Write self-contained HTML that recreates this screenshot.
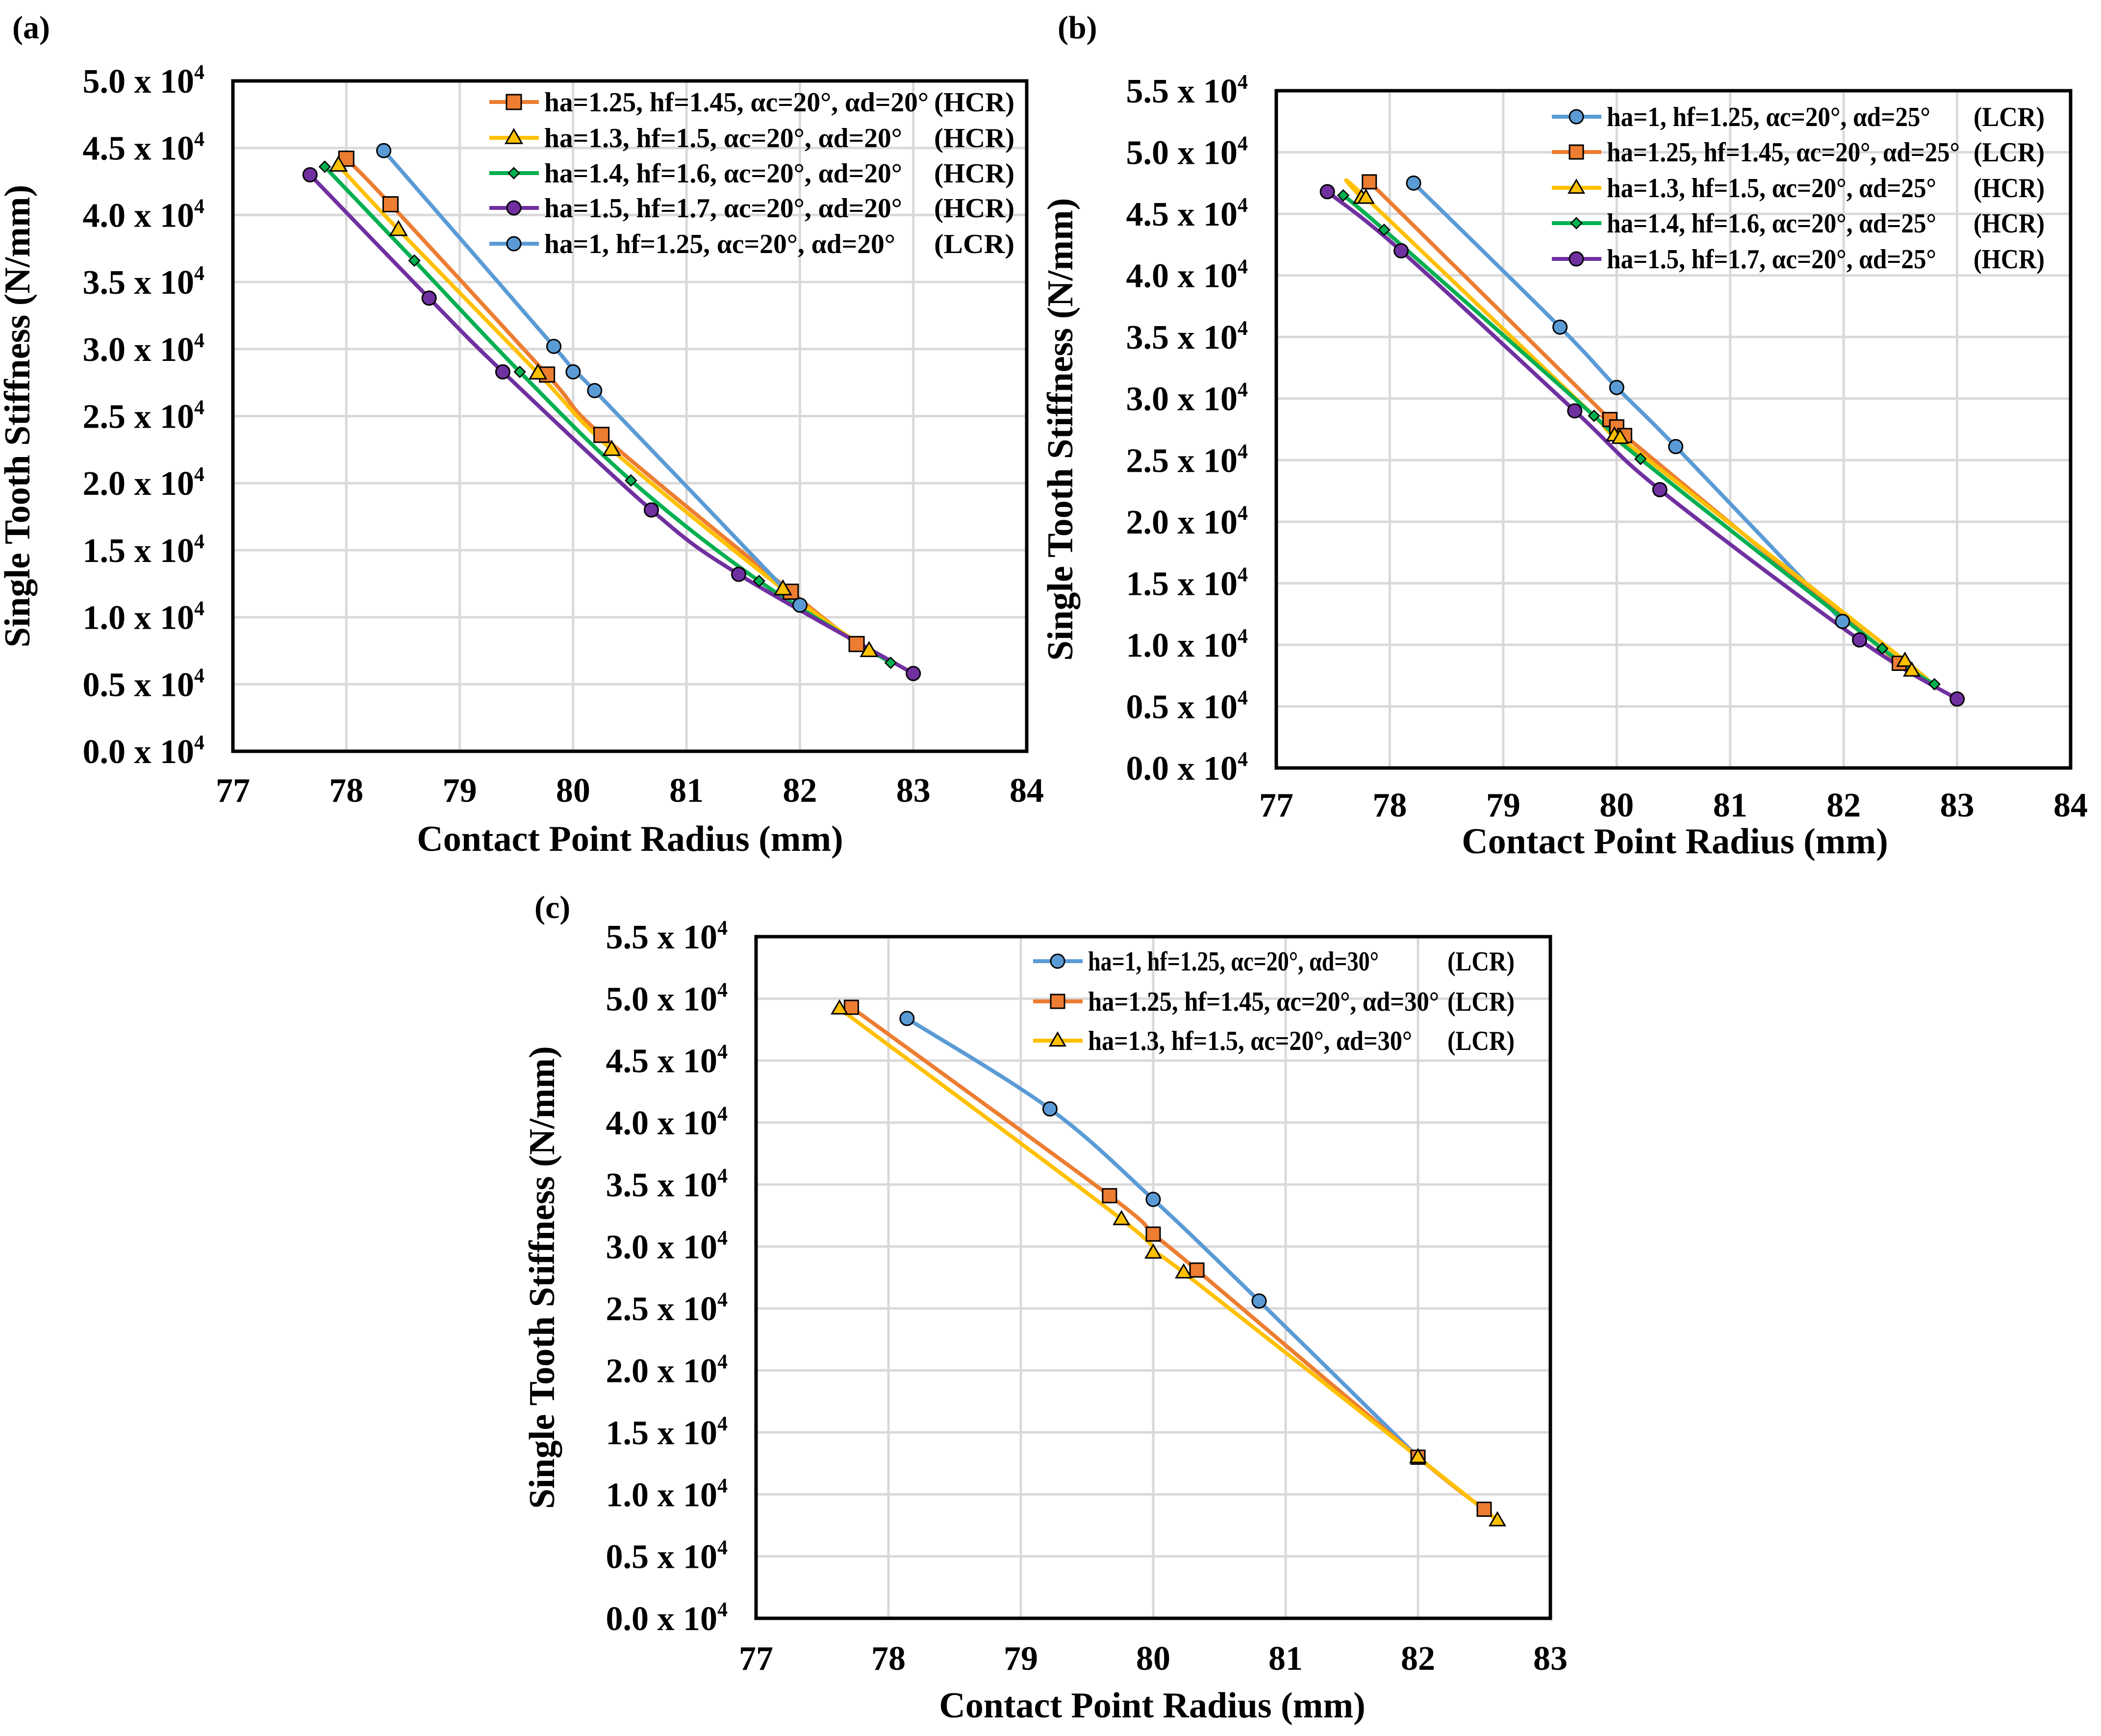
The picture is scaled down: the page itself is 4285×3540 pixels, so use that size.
<!DOCTYPE html>
<html><head><meta charset="utf-8"><style>
html,body{margin:0;padding:0;background:#fff;}
svg{display:block;font-family:"Liberation Serif",serif;font-weight:bold;}
</style></head><body>
<svg id="fig" width="4285" height="3540" viewBox="0 0 4285 3540" xmlns="http://www.w3.org/2000/svg">
<text x="25" y="78" font-size="66">(a)</text>
<text x="2157" y="78" font-size="66">(b)</text>
<text x="1090" y="1872" font-size="66">(c)</text>
</svg>
<script>
// ---- Panel (a) data ----
const aOrangeX=[78.0,78.39,79.77,80.25,81.92,82.5];
const aOrangeY=[44200,40800,28100,23600,11900,8000];
const aYellowX=[77.93,78.46,79.69,80.34,81.85,82.61];
const aYellowY=[43700,38900,28200,22500,12100,7500];
const aGreenX=[77.81,78.6,79.53,80.51,81.64,82.8];
const aGreenY=[43600,36600,28300,20200,12700,6600];
const aPurpleX=[77.68,78.73,79.38,80.69,81.46,83.0];
const aPurpleY=[43000,33800,28300,18000,13200,5800];
const aBlueX=[78.33,79.83,80.0,80.19,82.0];
const aBlueY=[44800,30200,28300,26900,10900];
// ---- Panel (b) data ----
const bBlueX=[78.21,79.5,80.0,80.52,81.99];
const bBlueY=[47500,35800,30900,26100,11900];
const bOrangeX=[77.82,79.94,80.0,80.07,82.49];
const bOrangeY=[47600,28300,27700,27000,8500];
const bYellowX=[77.75,77.79,79.98,80.03,82.54,82.6];
const bYellowY=[46300,46300,27000,26800,8700,7900];
const bGreenX=[77.59,77.95,79.8,80.21,82.34,82.8];
const bGreenY=[46500,43700,28600,25100,9700,6800];
const bPurpleX=[77.45,78.1,79.63,80.38,82.14,83.0];
const bPurpleY=[46800,42000,29000,22600,10400,5600];
// ---- Panel (c) data ----
const cBlueX=[78.14,79.22,80.0,80.8,82.0];
const cBlueY=[48400,41100,33800,25600,13000];
const cOrangeX=[77.72,79.67,80.0,80.33,82.0,82.5];
const cOrangeY=[49300,34100,31000,28100,13000,8800];
const cYellowX=[77.63,79.76,80.0,80.23,82.0,82.6];
const cYellowY=[49200,32200,29500,27900,13000,7900];
// ---- ticks ----
const aXTicks=[77,78,79,80,81,82,83,84];
const aYTicks=["0.0","0.5","1.0","1.5","2.0","2.5","3.0","3.5","4.0","4.5","5.0"];
const bXTicks=[77,78,79,80,81,82,83,84];
const bYTicks=["0.0","0.5","1.0","1.5","2.0","2.5","3.0","3.5","4.0","4.5","5.0","5.5"];
const cXTicks=[77,78,79,80,81,82,83];
const cYTicks=["0.0","0.5","1.0","1.5","2.0","2.5","3.0","3.5","4.0","4.5","5.0","5.5"];
const legA=["ha=1.25, hf=1.45, αc=20°, αd=20°","ha=1.3, hf=1.5, αc=20°, αd=20°","ha=1.4, hf=1.6, αc=20°, αd=20°","ha=1.5, hf=1.7, αc=20°, αd=20°","ha=1, hf=1.25, αc=20°, αd=20°"];
const tagA=["(HCR)","(HCR)","(HCR)","(HCR)","(LCR)"];
const legB=["ha=1, hf=1.25, αc=20°, αd=25°","ha=1.25, hf=1.45, αc=20°, αd=25°","ha=1.3, hf=1.5, αc=20°, αd=25°","ha=1.4, hf=1.6, αc=20°, αd=25°","ha=1.5, hf=1.7, αc=20°, αd=25°"];
const tagB=["(LCR)","(LCR)","(HCR)","(HCR)","(HCR)"];
const legC=["ha=1, hf=1.25, αc=20°, αd=30°","ha=1.25, hf=1.45, αc=20°, αd=30°","ha=1.3, hf=1.5, αc=20°, αd=30°"];
const tagC=["(LCR)","(LCR)","(LCR)"];

const NS="http://www.w3.org/2000/svg";
const svg=document.getElementById('fig');
const COL={blue:"#5b9bd5",orange:"#ed7d31",yellow:"#ffc000",green:"#00b050",purple:"#7030a0"};
function mk(tag,attrs,parent){const e=document.createElementNS(NS,tag);for(const k in attrs)e.setAttribute(k,attrs[k]);(parent||svg).appendChild(e);return e;}
function marker(g,type,x,y,color,s){
  let e;
  if(type==="circle"){e=mk('circle',{cx:x,cy:y,r:s*0.5,fill:color,stroke:"#000","stroke-width":3},g);}
  else if(type==="square"){e=mk('rect',{x:x-s/2,y:y-s/2,width:s,height:s,fill:color,stroke:"#000","stroke-width":3},g);}
  else if(type==="triangle"){const h=s*0.95;e=mk('polygon',{points:`${x},${y-h*0.6} ${x+s*0.55},${y+h*0.4} ${x-s*0.55},${y+h*0.4}`,fill:color,stroke:"#000","stroke-width":3},g);}
  else {const d=s*0.42;e=mk('polygon',{points:`${x},${y-d} ${x+d},${y} ${x},${y+d} ${x-d},${y}`,fill:color,stroke:"#000","stroke-width":2.5},g);}
  return e;
}
function smoothPath(pts){
  let d=`M${pts[0][0]},${pts[0][1]}`;
  for(let i=0;i<pts.length-1;i++){
    const p0=pts[Math.max(0,i-1)],p1=pts[i],p2=pts[i+1],p3=pts[Math.min(pts.length-1,i+2)];
    const t=0.5/3;
    const c1=[p1[0]+(p2[0]-p0[0])*t,p1[1]+(p2[1]-p0[1])*t];
    const c2=[p2[0]-(p3[0]-p1[0])*t,p2[1]-(p3[1]-p1[1])*t];
    d+=` C${c1[0]},${c1[1]} ${c2[0]},${c2[1]} ${p2[0]},${p2[1]}`;
  }
  return d;
}
function panel(id,box,xmin,xmax,ymaxVal,xTicks,yTicks,series,leg,tags,legX,legYs,tagX,titleX,yTitleX,xTitleY,xTickY,legW,tagW){
  const [L,T,R,B]=box;
  const g=mk('g',{});
  
  
  const sx=v=>L+(v-xmin)/(xmax-xmin)*(R-L);
  const sy=v=>B-v/ymaxVal*(B-T);
  xTicks.forEach(v=>{const l=mk('line',{x1:sx(v),x2:sx(v),y1:T,y2:B,stroke:"#d9d9d9","stroke-width":5},g);
    
    });
  yTicks.forEach(t=>{const v=parseFloat(t)*10000;const l=mk('line',{x1:L,x2:R,y1:sy(v),y2:sy(v),stroke:"#d9d9d9","stroke-width":5},g);
    
    });
  const fr=mk('rect',{x:L,y:T,width:R-L,height:B-T,fill:"none",stroke:"#000","stroke-width":7},g);
  
  
  xTicks.forEach(v=>{const t=mk('text',{x:sx(v),y:xTickY,"font-size":70,"text-anchor":"middle"},g);t.textContent=v;
    
    });
  yTicks.forEach(s=>{const v=parseFloat(s)*10000;const t=mk('text',{x:L-58,y:sy(v)+24,"font-size":70,"text-anchor":"end"},g);
    
    
    t.appendChild(document.createTextNode(s+" x 10"));
    const sp=mk('tspan',{"font-size":42,dy:-28},t);sp.textContent="4";});
  const xt=mk('text',{x:titleX,y:xTitleY,"font-size":74,"text-anchor":"middle"},g);xt.textContent="Contact Point Radius (mm)";
  
  
  const cy=(T+B)/2;
  const yt=mk('text',{x:yTitleX,y:cy,"font-size":74,"text-anchor":"middle",transform:`rotate(-90 ${yTitleX} ${cy})`},g);yt.textContent="Single Tooth Stiffness (N/mm)";
  
  
  series.forEach(s=>{
    const pts=s.x.map((v,i)=>[sx(v),sy(s.y[i])]);
    const p=mk('path',{d:smoothPath(pts),fill:"none",stroke:s.c,"stroke-width":8,"stroke-linejoin":"round","stroke-linecap":"round"},g);
    
    
  });
  series.forEach(s=>{
    s.x.forEach((v,i)=>{const m=marker(g,s.m,sx(v),sy(s.y[i]),s.c,s.sz);
      
      });
  });
  leg.forEach((txt,i)=>{
    const s=series[i],y=legYs[i];
    const lg=mk('g',{},g);
    
    
    mk('line',{x1:legX,x2:legX+101,y1:y,y2:y,stroke:s.c,"stroke-width":8},lg);
    marker(lg,s.m,legX+50,y,s.c,s.sz);
    const t=mk('text',{x:legX+112,y:y+19,"font-size":56,textLength:legW[i],lengthAdjust:"spacingAndGlyphs"},lg);t.textContent=txt;
    const t2=mk('text',{x:tagX,y:y+19,"font-size":56,textLength:tagW,lengthAdjust:"spacingAndGlyphs"},lg);t2.textContent=tags[i];
  });
}
panel('a',[475,165,2094,1532],77,84,50000,aXTicks,aYTicks,[
 {n:'orange',x:aOrangeX,y:aOrangeY,c:COL.orange,m:'square',sz:30},
 {n:'yellow',x:aYellowX,y:aYellowY,c:COL.yellow,m:'triangle',sz:30},
 {n:'green',x:aGreenX,y:aGreenY,c:COL.green,m:'diamond',sz:26},
 {n:'purple',x:aPurpleX,y:aPurpleY,c:COL.purple,m:'circle',sz:28},
 {n:'blue',x:aBlueX,y:aBlueY,c:COL.blue,m:'circle',sz:28}],
 legA,tagA,998,[208,281,353,424,497],1905,1285,60,1735,1635,[784,730,730,730,716],164);
panel('b',[2603,185,4223,1566],77,84,55000,bXTicks,bYTicks,[
 {n:'blue',x:bBlueX,y:bBlueY,c:COL.blue,m:'circle',sz:28},
 {n:'orange',x:bOrangeX,y:bOrangeY,c:COL.orange,m:'square',sz:28},
 {n:'yellow',x:bYellowX,y:bYellowY,c:COL.yellow,m:'triangle',sz:28},
 {n:'green',x:bGreenX,y:bGreenY,c:COL.green,m:'diamond',sz:26},
 {n:'purple',x:bPurpleX,y:bPurpleY,c:COL.purple,m:'circle',sz:28}],
 legB,tagB,3165,[238,310,383,455,528],4025,3416,2187,1740,1665,[660,720,672,672,672],145);
panel('c',[1542,1910,3162,3300],77,83,55000,cXTicks,cYTicks,[
 {n:'blue',x:cBlueX,y:cBlueY,c:COL.blue,m:'circle',sz:28},
 {n:'orange',x:cOrangeX,y:cOrangeY,c:COL.orange,m:'square',sz:28},
 {n:'yellow',x:cYellowX,y:cYellowY,c:COL.yellow,m:'triangle',sz:28}],
 legC,tagC,2107,[1960,2042,2122],2952,2350,1130,3502,3405,[593,716,661],137);
</script>
</body></html>
